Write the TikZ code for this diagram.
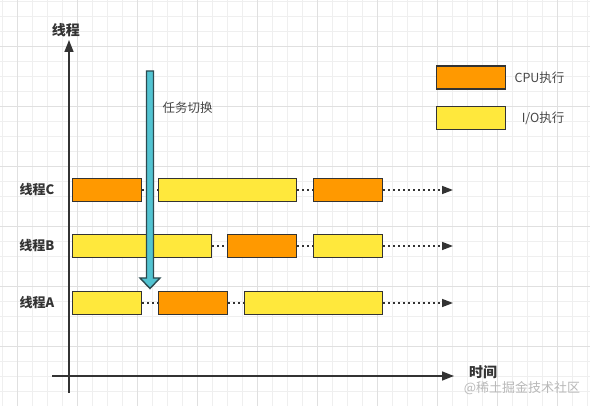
\documentclass[tikz,border=0pt]{standalone}
\usepackage{fontspec}
\setmainfont{Noto Sans CJK SC}
\usetikzlibrary{arrows.meta}
\definecolor{cpuor}{HTML}{FF9900}
\definecolor{ioyel}{HTML}{FFE83C}
\definecolor{edge}{HTML}{333333}
\definecolor{cyanar}{HTML}{52C3D1}
\definecolor{cyanedge}{HTML}{2B4A50}
\definecolor{gridminor}{HTML}{EFEFEF}
\definecolor{gridmajor}{HTML}{E0E0E0}
\tikzset{
  bar/.style={draw=edge, line width=1.4pt, minimum height=23pt, inner sep=0pt, anchor=west},
  cpu/.style={bar, fill=cpuor},
  io/.style={bar, fill=ioyel},
  waitline/.style={draw=edge, line width=1.5pt, dash pattern=on 1.6pt off 3.4pt},
  waitarrow/.style={waitline, -{Triangle[length=11pt,width=8pt]}},
  axis/.style={draw=edge, line width=1.6pt},
  rowlabel/.style={font=\bfseries\fontsize{13}{15}\selectfont, text=edge},
  legendtext/.style={font=\fontsize{12.5}{15}\selectfont, text=edge!90, anchor=east}
}
\begin{document}
\begin{tikzpicture}[x=1pt,y=-1pt]
\useasboundingbox (0,0) rectangle (590,406);
\fill[white] (0,0) rectangle (590,406);
% grid
\foreach \i in {0,...,39} {
  \draw[gridminor, line width=0.8pt] ({2+15*\i},0) -- ({2+15*\i},406);
}
\foreach \i in {0,...,27} {
  \draw[gridminor, line width=0.8pt] (0,{1+15*\i}) -- (590,{1+15*\i});
}
\foreach \i in {0,...,9} {
  \draw[gridmajor, line width=0.8pt] ({17+60*\i},0) -- ({17+60*\i},406);
}
\foreach \i in {0,...,6} {
  \draw[gridmajor, line width=0.8pt] (0,{46+60*\i}) -- (590,{46+60*\i});
}
% axes
\coordinate (ybot) at (69,393);
\coordinate (ytop) at (69,40);
\coordinate (xleft) at (52,376);
\coordinate (xright) at (454,376);
\draw[axis, -{Triangle[length=12pt,width=9pt]}] (ybot) -- (ytop);
\draw[axis, -{Triangle[length=12pt,width=9pt]}] (xleft) -- (xright);
\node[font=\bfseries\fontsize{14}{16}\selectfont, text=edge] (ylab) at (66,30) {线程};
\node[font=\bfseries\fontsize{14}{16}\selectfont, text=edge] (xlab) at (483,372) {时间};
\node[font=\fontsize{13}{15}\selectfont, text=gray!55] (wm) at (522,388) {@稀土掘金技术社区};
% row labels
\node[rowlabel] (lc) at (37,190) {线程C};
\node[rowlabel] (lb) at (37,246) {线程B};
\node[rowlabel] (la) at (37,303) {线程A};
% row C
\node[cpu, minimum width=69pt] (c1) at (72,190) {};
\node[io,  minimum width=138pt] (c2) at (158,190) {};
\node[cpu, minimum width=69pt] (c3) at (313,190) {};
\coordinate (ce) at (453,190);
\draw[waitline] (c1.east) -- (c2.west);
\draw[waitline] (c2.east) -- (c3.west);
\draw[waitarrow] (c3.east) -- (ce);
% row B
\node[io,  minimum width=139pt] (b1) at (72,246) {};
\node[cpu, minimum width=69pt] (b2) at (227,246) {};
\node[io,  minimum width=69pt] (b3) at (313,246) {};
\coordinate (be) at (453,246);
\draw[waitline] (b1.east) -- (b2.west);
\draw[waitline] (b2.east) -- (b3.west);
\draw[waitarrow] (b3.east) -- (be);
% row A
\node[io,  minimum width=69pt] (a1) at (72,303) {};
\node[cpu, minimum width=69pt] (a2) at (158,303) {};
\node[io,  minimum width=138pt] (a3) at (244,303) {};
\coordinate (ae) at (453,303);
\draw[waitline] (a1.east) -- (a2.west);
\draw[waitline] (a2.east) -- (a3.west);
\draw[waitarrow] (a3.east) -- (ae);
% legend
\node[cpu, minimum width=69pt] (lgc) at (436,77.5) {};
\node[io,  minimum width=69pt] (lgi) at (436,118) {};
\node[legendtext] (tc) at (568,78) {CPU执行};
\node[legendtext] (ti) at (568,118) {I/O执行};
% task switch arrow
\draw[fill=cyanar, draw=cyanedge, line width=1.4pt, line join=miter]
  (146.5,71) -- (153.5,71) -- (153.5,278) -- (160,278) -- (150,288.5) -- (140,278) -- (146.5,278) -- cycle;
\node[font=\fontsize{12.5}{15}\selectfont, text=edge!90, anchor=west] (sw) at (159,108) {任务切换};
\end{tikzpicture}
\end{document}
